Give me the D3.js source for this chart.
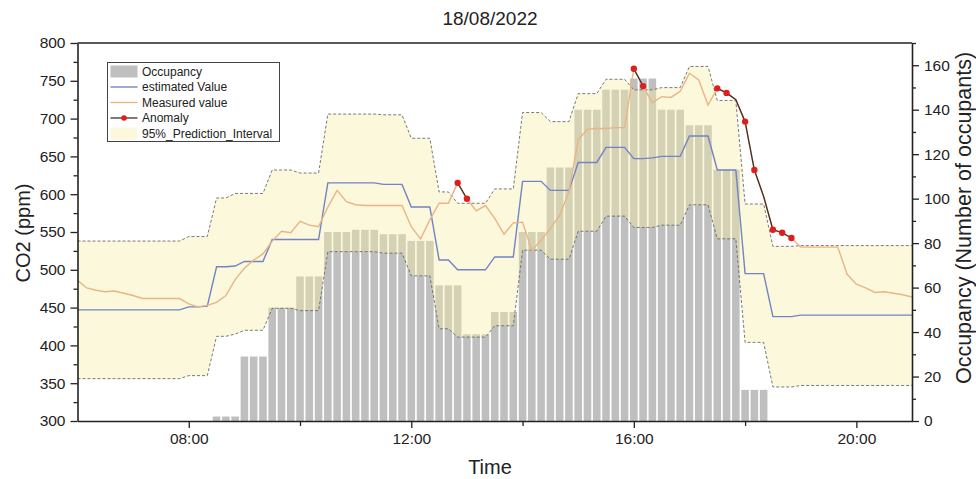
<!DOCTYPE html>
<html><head><meta charset="utf-8">
<script src="https://cdn.jsdelivr.net/npm/d3@7"></script>
<style>
body{margin:0;background:#fff}
svg{display:block;font-family:Arial,"Liberation Sans",sans-serif}
</style>
</head><body>
<svg id="chart" width="976" height="479"></svg>
<script>
// ---------- DATA (10-minute steps, 06:00 .. 21:00) ----------
const chartTitle = "18/08/2022";
const startHour = 6, stepMinutes = 10, nPoints = 91;

// Occupancy (number of occupants), null = no bar
const occupancy = [
 null,null,null,null,null,null,null,null,null,null,null,null,null,null,null,
 2,2,2, 29,29,29, 51,51,51, 65,65,65, 85,85,85, 86,86,86, 84,84,84,
 81,81,81, 61,61,61, 39,39,39, 49,49,49, 85,85,85, 114,114,114,
 140,140,140, 149,149,149, 154,154,154, 140,140,140, 133,133,133,
 113,113,113, 14,14,14,
 null,null,null,null,null,null,null,null,null,null,null,null,null,null,null,null
];

// Estimated CO2 value (ppm)
const estimated = [
 447,447,447,447,447,447,447,447,447,447,447,447,
 451,451,452, 504,504,505, 511,511,511,
 540,540,540,540,540,540, 615,615,615,615,615,615, 613,613,613,
 583,583,583, 513,513, 500,500,500,500, 517,517,517,
 617,617,617, 605,605,605, 642,642,642, 662,662,662,
 647,647,648, 650,650,650, 677,677,677, 632,632,632,
 495,495,495, 438,438,438,
 440,440,440,440,440,440,440,440,440,440,440,440,440
];

// Measured CO2 value (ppm)
const measured = [
 486,476,473,471,472,469,466,462,462,462,462,462,
 455,451,453,457,466,487,502,513,521,538,551,549,
 564,559,557,583,605,590,586,585,585,585,585,585,
 557,541,566,588,588,615,594,578,585,568,547,562,
 563,526,539,555,572,603,672,686,687,687,688,688,
 766,743,721,729,728,736,760,751,718,740,734,725,
 696,632,597,553,549,542,530,530,530,530,530,494,
 481,476,470,471,469,467,464
];

// 95% prediction interval bounds (ppm)
const upperBound = [
 538,538,538,538,538,538,538,538,538,538,538,538,
 544,544,544, 595,595,601, 601,601,601,
 632,632,632,628,628,628, 706,706,706,706,706,706, 705,705,705,
 674,674,674, 603,603, 588,588,588,588, 607,607,607,
 708,708,708, 696,696,696, 733,733,733, 752,752,752,
 738,738,738, 741,741,741, 769,769,769, 724,724,724,
 587,587,587, 531,531,531,
 532,532,532,532,532,532,532,532,532,532,532,532,532
];
const lowerBound = [
 356,356,356,356,356,356,356,356,356,356,356,356,
 360,360,360, 412,412,415, 420,420,420,
 449,449,449,446,446,446, 524,524,524,524,524,524, 522,522,522,
 492,492,492, 422,422, 411,411,411,411, 426,426,426,
 526,526,526, 514,514,514, 551,551,551, 571,571,571,
 556,556,556, 559,559,559, 586,586,586, 541,541,541,
 404,404,404, 345,345,345,
 347,347,347,347,347,347,347,347,347,347,347,347,347
];

// Anomalies (time label, measured value)
const anomalyTimes  = ["12:50","13:00","16:00","16:10","17:30","17:40","18:00","18:10","18:30","18:40","18:50"];
const anomalyValues = [615,594,766,743,740,734,696,632,553,549,542];

// Tick labels
const xMajorTicks = ["08:00","12:00","16:00","20:00"];
const xMinorTicks = ["10:00","14:00","18:00"];
const leftTicks = [300,350,400,450,500,550,600,650,700,750,800];
const rightTicks = [0,20,40,60,80,100,120,140,160];

const legendLabels = ["Occupancy","estimated Value","Measured value","Anomaly","95%_Prediction_Interval"];

// ---------- CHART ----------
const svg = d3.select("#chart");
const day = (h, m) => new Date(2022, 7, 18, h, m);
const parseHM = s => { const [h, m] = s.split(":").map(Number); return day(h, m); };
const times = d3.range(nPoints).map(i => day(startHour, i * stepMinutes));

const L = 77.5, R = 912, T = 43, B = 421;
const x = d3.scaleTime().domain([day(6,0), day(21,0)]).range([L, R]);
const yL = d3.scaleLinear().domain([300, 800]).range([B, T]);
const yR = d3.scaleLinear().domain([0, 170]).range([B, T]);

const C = {
  bar: "#bfbfbf", band: "rgb(245,238,168)", blue: "#7383c4",
  orange: "#eab584", dash: "#6a6a6a", anomLine: "#4a2c22", dot: "#e01e1e"
};

// Bars
const half = 5 * 60 * 1000;
svg.append("g").selectAll("rect")
  .data(times.map((t, i) => ({t, v: occupancy[i]})).filter(d => d.v != null))
  .join("rect")
  .attr("x", d => x(new Date(+d.t - half)) + 0.85)
  .attr("width", d => x(new Date(+d.t + half)) - x(new Date(+d.t - half)) - 1.7)
  .attr("y", d => yR(d.v))
  .attr("height", d => yR(0) - yR(d.v))
  .attr("fill", C.bar);

// Prediction band
const idx = d3.range(nPoints);
svg.append("path")
  .attr("d", d3.area().x(i => x(times[i])).y0(i => yL(lowerBound[i])).y1(i => yL(upperBound[i]))(idx))
  .attr("fill", C.band).attr("fill-opacity", 0.4);

const lineOf = arr => d3.line().x(i => x(times[i])).y(i => yL(arr[i]))(idx);
[upperBound, lowerBound].forEach(arr => {
  svg.append("path").attr("d", lineOf(arr)).attr("fill", "none")
    .attr("stroke", C.dash).attr("stroke-width", 0.9).attr("stroke-dasharray", "3,2");
});

// Estimated & measured lines
svg.append("path").attr("d", lineOf(estimated)).attr("fill", "none")
  .attr("stroke", C.blue).attr("stroke-width", 1.4);
svg.append("path").attr("d", lineOf(measured)).attr("fill", "none")
  .attr("stroke", C.orange).attr("stroke-width", 1.4);

// Anomaly connecting lines (consecutive anomalies within 20 minutes)
const anomPts = anomalyTimes.map((s, k) => ({t: parseHM(s), v: anomalyValues[k]}));
const gAnom = svg.append("g");
for (let k = 0; k < anomPts.length - 1; k++) {
  const a = anomPts[k], b = anomPts[k + 1];
  if (+b.t - +a.t <= 20 * 60 * 1000) {
    const seg = idx.filter(i => +times[i] >= +a.t && +times[i] <= +b.t);
    gAnom.append("path")
      .attr("d", d3.line().x(i => x(times[i])).y(i => yL(measured[i]))(seg))
      .attr("fill", "none").attr("stroke", C.anomLine).attr("stroke-width", 1.3);
  }
}
gAnom.selectAll("circle").data(anomPts).join("circle")
  .attr("cx", d => x(d.t)).attr("cy", d => yL(d.v)).attr("r", 3.2).attr("fill", C.dot);

// Axes
const axisStyle = g => {
  g.selectAll(".domain").attr("stroke", "#222").attr("stroke-width", 1.6);
  g.selectAll(".tick line").attr("stroke", "#222").attr("stroke-width", 1.3);
  g.selectAll(".tick text").attr("fill", "#222").style("font-size", "15.5px");
};
// frame top
svg.append("line").attr("x1", L).attr("x2", R).attr("y1", T).attr("y2", T)
  .attr("stroke", "#222").attr("stroke-width", 1.6);

svg.append("g").attr("transform", `translate(0,${B})`)
  .call(d3.axisBottom(x).tickValues(xMajorTicks.map(parseHM)).tickFormat(d3.timeFormat("%H:%M"))
    .tickSize(7).tickSizeOuter(0).tickPadding(5)).call(axisStyle);
svg.append("g").attr("transform", `translate(0,${B})`)
  .call(d3.axisBottom(x).tickValues(xMinorTicks.map(parseHM)).tickFormat("").tickSize(5).tickSizeOuter(0))
  .call(axisStyle).select(".domain").remove();

svg.append("g").attr("transform", `translate(${L},0)`)
  .call(d3.axisLeft(yL).tickValues(leftTicks).tickSize(7).tickSizeOuter(0).tickPadding(5)).call(axisStyle);
svg.append("g").attr("transform", `translate(${L},0)`)
  .call(d3.axisLeft(yL).tickValues(leftTicks.slice(0, -1).map(v => v + 25)).tickFormat("").tickSize(4).tickSizeOuter(0))
  .call(axisStyle).select(".domain").remove();

svg.append("g").attr("transform", `translate(${R},0)`)
  .call(d3.axisRight(yR).tickValues(rightTicks).tickSize(7).tickSizeOuter(0).tickPadding(5)).call(axisStyle);
svg.append("g").attr("transform", `translate(${R},0)`)
  .call(d3.axisRight(yR).tickValues(rightTicks.map(v => v + 10)).tickFormat("").tickSize(4).tickSizeOuter(0))
  .call(axisStyle).select(".domain").remove();

// Titles
svg.append("text").attr("x", 490).attr("y", 25).attr("text-anchor", "middle")
  .style("font-size", "19px").attr("fill", "#222").text(chartTitle);
svg.append("text").attr("x", 490).attr("y", 474).attr("text-anchor", "middle")
  .style("font-size", "20px").attr("fill", "#222").text("Time");
svg.append("text").attr("transform", "translate(30,233) rotate(-90)").attr("text-anchor", "middle")
  .style("font-size", "20px").attr("fill", "#222").text("CO2 (ppm)");
svg.append("text").attr("transform", "translate(971,218) rotate(-90)").attr("text-anchor", "middle")
  .style("font-size", "21.5px").attr("fill", "#222").text("Occupancy (Number of occupants)");

// Legend
const lg = svg.append("g").attr("transform", "translate(107.5,62.5)");
lg.append("rect").attr("width", 172).attr("height", 79).attr("fill", "#fff").attr("stroke", "#444").attr("stroke-width", 1);
const rowY = k => 9 + k * 15.5;
lg.append("rect").attr("x", 3).attr("y", rowY(0) - 6).attr("width", 27).attr("height", 12).attr("fill", C.bar);
lg.append("line").attr("x1", 3).attr("x2", 30).attr("y1", rowY(1)).attr("y2", rowY(1)).attr("stroke", C.blue).attr("stroke-width", 1.4);
lg.append("line").attr("x1", 3).attr("x2", 30).attr("y1", rowY(2)).attr("y2", rowY(2)).attr("stroke", C.orange).attr("stroke-width", 1.4);
lg.append("line").attr("x1", 3).attr("x2", 30).attr("y1", rowY(3)).attr("y2", rowY(3)).attr("stroke", C.anomLine).attr("stroke-width", 1.3);
lg.append("circle").attr("cx", 16.5).attr("cy", rowY(3)).attr("r", 2.8).attr("fill", C.dot);
lg.append("rect").attr("x", 3).attr("y", rowY(4) - 6).attr("width", 27).attr("height", 12)
  .attr("fill", C.band).attr("fill-opacity", 0.4);
lg.selectAll("text.lab").data(legendLabels).join("text").attr("class", "lab")
  .attr("x", 34.5).attr("y", (d, k) => rowY(k) + 4.3)
  .style("font-size", "12px").attr("fill", "#222").text(d => d);
</script>
</body></html>
